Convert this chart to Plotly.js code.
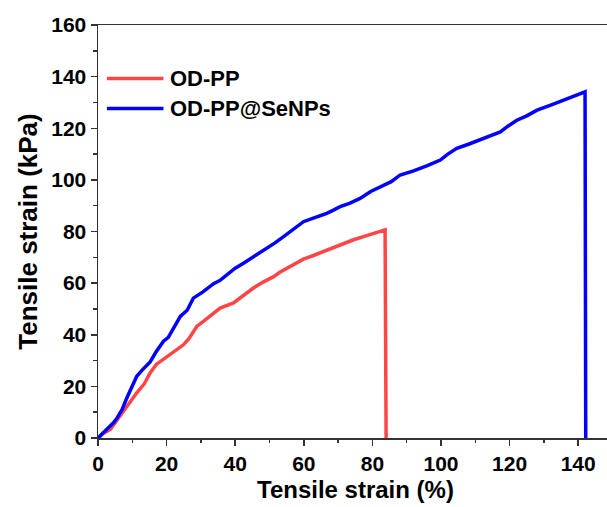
<!DOCTYPE html>
<html>
<head>
<meta charset="utf-8">
<script src="https://cdn.plot.ly/plotly-3.0.1.min.js"></script>
<style>
html,body{margin:0;padding:0;background:#fff;}
#chart{width:607px;height:507px;}
</style>
</head>
<body>
<div id="chart"></div>
<script>
var seriesNames = ["OD-PP", "OD-PP@SeNPs"];
var seriesColors = ["#FF4646", "#0000FF"];

var odppX = [0, 1.5, 3.6, 5, 6.5, 8.5, 11.3, 13.5, 15.2, 17, 20.1, 22.5, 24.9, 26.5, 28.8, 31, 33.5, 35.6, 39.5, 42.5, 45.3, 48, 51.2, 53, 55.1, 57.5, 59.9, 63, 65.7, 68.5, 71.6, 74.5, 77.4, 80.5, 83.7, 84.0];
var odppY = [0, 1.8, 3.3, 5.9, 8.4, 12, 17.5, 21, 25.2, 28.5, 31.6, 34, 36.1, 38.5, 43.2, 45.5, 48.3, 50.3, 52.3, 55.3, 58.1, 60.3, 62.5, 64.2, 65.8, 67.8, 69.3, 70.8, 72.2, 73.8, 75.5, 76.8, 78.0, 79.3, 80.6, 0];

var senpX = [0, 2.6, 4.5, 5.5, 7, 8.4, 10, 11.3, 13, 15.2, 17, 19.1, 20.5, 22, 24, 26, 27.8, 30.5, 33.7, 35.5, 37.6, 40, 42.4, 45.5, 49.2, 51.5, 54.1, 57, 59.9, 63, 66.7, 68.5, 70.6, 73.5, 76.4, 79.5, 83.2, 85.5, 88.1, 92, 96, 99.8, 102, 104.6, 108, 112, 117.3, 119.5, 122.1, 125, 128, 132, 136, 139, 142.0, 142.2];
var senpY = [0, 3.3, 5.9, 7.6, 11, 15.5, 20.5, 23.9, 26.5, 29.5, 33.5, 37.5, 39, 42.5, 47.1, 49.5, 54.2, 56.5, 59.8, 61, 63.2, 65.8, 67.7, 70.3, 73.5, 75.5, 78, 80.8, 83.8, 85.3, 87, 88.2, 89.6, 91, 92.8, 95.5, 98, 99.3, 101.9, 103.5, 105.5, 107.7, 110, 112.2, 113.8, 115.8, 118.6, 120.8, 123.1, 124.8, 127, 129, 131, 132.8, 134.1, 0];

var xTitle = "Tensile strain (%)";
var yTitle = "Tensile strain (kPa)";

var FONT = "Arial, 'Liberation Sans', sans-serif";
var axisColor = "#333333";

var traces = [
  {x: odppX, y: odppY, name: seriesNames[0], type: "scatter", mode: "lines",
   line: {color: seriesColors[0], width: 3.5}, showlegend: false},
  {x: senpX, y: senpY, name: seriesNames[1], type: "scatter", mode: "lines",
   line: {color: seriesColors[1], width: 3.5}, showlegend: false}
];

// manual legend (long line samples as in the reference)
var legY = [0.8705, 0.798];
var shapes = [], annotations = [];
for (var i = 0; i < seriesNames.length; i++) {
  shapes.push({type: "line", xref: "paper", yref: "paper",
    x0: 0.0175, x1: 0.1286, y0: legY[i], y1: legY[i],
    line: {color: seriesColors[i], width: 3.5}});
  annotations.push({xref: "paper", yref: "paper", x: 0.138, y: legY[i],
    xanchor: "left", yanchor: "middle", showarrow: false,
    text: "<b>" + seriesNames[i] + "</b>",
    font: {family: FONT, size: 22, color: "#000"}});
}
// x-axis title
annotations.push({xref: "paper", yref: "paper", x: 0.505, y: -0.124,
  xanchor: "center", yanchor: "middle", showarrow: false, borderpad: 0,
  text: "<b>" + xTitle + "</b>",
  font: {family: FONT, size: 24, color: "#000"}});

var layout = {
  width: 607, height: 507,
  margin: {l: 98, r: 0, t: 25, b: 69, pad: 0},
  paper_bgcolor: "#fff", plot_bgcolor: "#fff",
  showlegend: false,
  font: {family: FONT, color: "#000"},
  xaxis: {
    range: [0, 148.4], tick0: 0, dtick: 20, ticks: "outside", ticklen: 6, tickwidth: 1.5,
    tickcolor: axisColor, showline: true, linecolor: axisColor, linewidth: 1.5, mirror: true,
    showgrid: false, zeroline: false,
    minor: {dtick: 10, ticklen: 3.5, tickwidth: 1.5, tickcolor: axisColor, ticks: "outside", showgrid: false},
    tickfont: {family: FONT, size: 21, color: "#000", weight: "bold"}
  },
  yaxis: {
    range: [0, 160], tick0: 0, dtick: 20, ticks: "outside", ticklen: 6, tickwidth: 1.5,
    tickcolor: axisColor, showline: true, linecolor: axisColor, linewidth: 1.5, mirror: false,
    showgrid: false, zeroline: false,
    minor: {dtick: 10, ticklen: 3.5, tickwidth: 1.5, tickcolor: axisColor, ticks: "outside", showgrid: false},
    tickfont: {family: FONT, size: 21, color: "#000", weight: "bold"},
    title: {text: "<b>" + yTitle + "</b>", font: {family: FONT, size: 26, color: "#000"}, standoff: 6}
  },
  shapes: shapes,
  annotations: annotations
};

Plotly.newPlot("chart", traces, layout, {displayModeBar: false, staticPlot: true});
</script>
</body>
</html>
